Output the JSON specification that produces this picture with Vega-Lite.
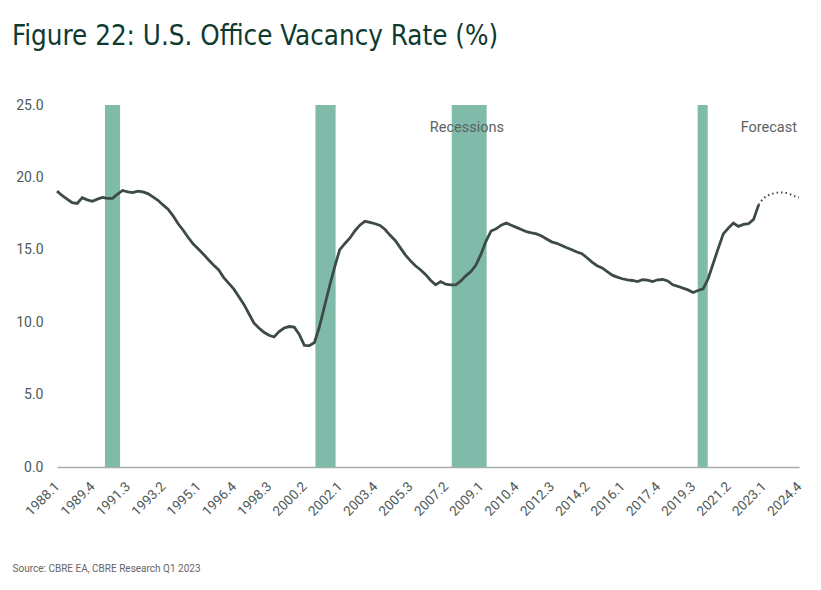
{
  "$schema": "https://vega.github.io/schema/vega-lite/v6.json",
  "width": 742,
  "height": 362,
  "autosize": {"type": "none"},
  "padding": {"left": 57, "top": 105, "right": 22, "bottom": 123},
  "background": "white",
  "title": {
    "text": "Figure 22: U.S. Office Vacancy Rate (%)",
    "anchor": "start",
    "frame": "group",
    "dx": -45,
    "offset": 48,
    "fontSize": 27.5,
    "font": "Liberation Sans Narrow, DejaVu Sans Condensed, Roboto, sans-serif",
    "fontWeight": "normal",
    "color": "#0f3a30"
  },
  "datasets": {
    "vacancy": [
      {"period": 1988, "rate": 19.05, "series": "Actual"},
      {"period": 1988.25, "rate": 18.75, "series": "Actual"},
      {"period": 1988.5, "rate": 18.5, "series": "Actual"},
      {"period": 1988.75, "rate": 18.25, "series": "Actual"},
      {"period": 1989, "rate": 18.2, "series": "Actual"},
      {"period": 1989.25, "rate": 18.6, "series": "Actual"},
      {"period": 1989.5, "rate": 18.45, "series": "Actual"},
      {"period": 1989.75, "rate": 18.35, "series": "Actual"},
      {"period": 1990, "rate": 18.5, "series": "Actual"},
      {"period": 1990.25, "rate": 18.62, "series": "Actual"},
      {"period": 1990.5, "rate": 18.55, "series": "Actual"},
      {"period": 1990.75, "rate": 18.55, "series": "Actual"},
      {"period": 1991, "rate": 18.85, "series": "Actual"},
      {"period": 1991.25, "rate": 19.1, "series": "Actual"},
      {"period": 1991.5, "rate": 19.0, "series": "Actual"},
      {"period": 1991.75, "rate": 18.95, "series": "Actual"},
      {"period": 1992, "rate": 19.05, "series": "Actual"},
      {"period": 1992.25, "rate": 19.0, "series": "Actual"},
      {"period": 1992.5, "rate": 18.88, "series": "Actual"},
      {"period": 1992.75, "rate": 18.65, "series": "Actual"},
      {"period": 1993, "rate": 18.42, "series": "Actual"},
      {"period": 1993.25, "rate": 18.1, "series": "Actual"},
      {"period": 1993.5, "rate": 17.8, "series": "Actual"},
      {"period": 1993.75, "rate": 17.35, "series": "Actual"},
      {"period": 1994, "rate": 16.8, "series": "Actual"},
      {"period": 1994.25, "rate": 16.35, "series": "Actual"},
      {"period": 1994.5, "rate": 15.85, "series": "Actual"},
      {"period": 1994.75, "rate": 15.4, "series": "Actual"},
      {"period": 1995, "rate": 15.05, "series": "Actual"},
      {"period": 1995.25, "rate": 14.7, "series": "Actual"},
      {"period": 1995.5, "rate": 14.31, "series": "Actual"},
      {"period": 1995.75, "rate": 13.95, "series": "Actual"},
      {"period": 1996, "rate": 13.62, "series": "Actual"},
      {"period": 1996.25, "rate": 13.1, "series": "Actual"},
      {"period": 1996.5, "rate": 12.7, "series": "Actual"},
      {"period": 1996.75, "rate": 12.3, "series": "Actual"},
      {"period": 1997, "rate": 11.77, "series": "Actual"},
      {"period": 1997.25, "rate": 11.25, "series": "Actual"},
      {"period": 1997.5, "rate": 10.6, "series": "Actual"},
      {"period": 1997.75, "rate": 9.95, "series": "Actual"},
      {"period": 1998, "rate": 9.6, "series": "Actual"},
      {"period": 1998.25, "rate": 9.3, "series": "Actual"},
      {"period": 1998.5, "rate": 9.1, "series": "Actual"},
      {"period": 1998.75, "rate": 8.98, "series": "Actual"},
      {"period": 1999, "rate": 9.35, "series": "Actual"},
      {"period": 1999.25, "rate": 9.6, "series": "Actual"},
      {"period": 1999.5, "rate": 9.7, "series": "Actual"},
      {"period": 1999.75, "rate": 9.66, "series": "Actual"},
      {"period": 2000, "rate": 9.15, "series": "Actual"},
      {"period": 2000.25, "rate": 8.4, "series": "Actual"},
      {"period": 2000.5, "rate": 8.38, "series": "Actual"},
      {"period": 2000.75, "rate": 8.6, "series": "Actual"},
      {"period": 2001, "rate": 9.7, "series": "Actual"},
      {"period": 2001.25, "rate": 11.1, "series": "Actual"},
      {"period": 2001.5, "rate": 12.5, "series": "Actual"},
      {"period": 2001.75, "rate": 13.8, "series": "Actual"},
      {"period": 2002, "rate": 15.0, "series": "Actual"},
      {"period": 2002.25, "rate": 15.42, "series": "Actual"},
      {"period": 2002.5, "rate": 15.8, "series": "Actual"},
      {"period": 2002.75, "rate": 16.3, "series": "Actual"},
      {"period": 2003, "rate": 16.7, "series": "Actual"},
      {"period": 2003.25, "rate": 16.97, "series": "Actual"},
      {"period": 2003.5, "rate": 16.9, "series": "Actual"},
      {"period": 2003.75, "rate": 16.8, "series": "Actual"},
      {"period": 2004, "rate": 16.68, "series": "Actual"},
      {"period": 2004.25, "rate": 16.4, "series": "Actual"},
      {"period": 2004.5, "rate": 16.0, "series": "Actual"},
      {"period": 2004.75, "rate": 15.65, "series": "Actual"},
      {"period": 2005, "rate": 15.15, "series": "Actual"},
      {"period": 2005.25, "rate": 14.65, "series": "Actual"},
      {"period": 2005.5, "rate": 14.25, "series": "Actual"},
      {"period": 2005.75, "rate": 13.9, "series": "Actual"},
      {"period": 2006, "rate": 13.62, "series": "Actual"},
      {"period": 2006.25, "rate": 13.3, "series": "Actual"},
      {"period": 2006.5, "rate": 12.9, "series": "Actual"},
      {"period": 2006.75, "rate": 12.58, "series": "Actual"},
      {"period": 2007, "rate": 12.81, "series": "Actual"},
      {"period": 2007.25, "rate": 12.62, "series": "Actual"},
      {"period": 2007.5, "rate": 12.58, "series": "Actual"},
      {"period": 2007.75, "rate": 12.58, "series": "Actual"},
      {"period": 2008, "rate": 12.85, "series": "Actual"},
      {"period": 2008.25, "rate": 13.2, "series": "Actual"},
      {"period": 2008.5, "rate": 13.5, "series": "Actual"},
      {"period": 2008.75, "rate": 13.95, "series": "Actual"},
      {"period": 2009, "rate": 14.7, "series": "Actual"},
      {"period": 2009.25, "rate": 15.6, "series": "Actual"},
      {"period": 2009.5, "rate": 16.3, "series": "Actual"},
      {"period": 2009.75, "rate": 16.45, "series": "Actual"},
      {"period": 2010, "rate": 16.7, "series": "Actual"},
      {"period": 2010.25, "rate": 16.85, "series": "Actual"},
      {"period": 2010.5, "rate": 16.7, "series": "Actual"},
      {"period": 2010.75, "rate": 16.55, "series": "Actual"},
      {"period": 2011, "rate": 16.4, "series": "Actual"},
      {"period": 2011.25, "rate": 16.25, "series": "Actual"},
      {"period": 2011.5, "rate": 16.17, "series": "Actual"},
      {"period": 2011.75, "rate": 16.1, "series": "Actual"},
      {"period": 2012, "rate": 15.95, "series": "Actual"},
      {"period": 2012.25, "rate": 15.75, "series": "Actual"},
      {"period": 2012.5, "rate": 15.55, "series": "Actual"},
      {"period": 2012.75, "rate": 15.45, "series": "Actual"},
      {"period": 2013, "rate": 15.3, "series": "Actual"},
      {"period": 2013.25, "rate": 15.14, "series": "Actual"},
      {"period": 2013.5, "rate": 15.0, "series": "Actual"},
      {"period": 2013.75, "rate": 14.85, "series": "Actual"},
      {"period": 2014, "rate": 14.73, "series": "Actual"},
      {"period": 2014.25, "rate": 14.45, "series": "Actual"},
      {"period": 2014.5, "rate": 14.15, "series": "Actual"},
      {"period": 2014.75, "rate": 13.9, "series": "Actual"},
      {"period": 2015, "rate": 13.75, "series": "Actual"},
      {"period": 2015.25, "rate": 13.5, "series": "Actual"},
      {"period": 2015.5, "rate": 13.25, "series": "Actual"},
      {"period": 2015.75, "rate": 13.11, "series": "Actual"},
      {"period": 2016, "rate": 13.0, "series": "Actual"},
      {"period": 2016.25, "rate": 12.92, "series": "Actual"},
      {"period": 2016.5, "rate": 12.88, "series": "Actual"},
      {"period": 2016.75, "rate": 12.81, "series": "Actual"},
      {"period": 2017, "rate": 12.93, "series": "Actual"},
      {"period": 2017.25, "rate": 12.9, "series": "Actual"},
      {"period": 2017.5, "rate": 12.81, "series": "Actual"},
      {"period": 2017.75, "rate": 12.93, "series": "Actual"},
      {"period": 2018, "rate": 12.95, "series": "Actual"},
      {"period": 2018.25, "rate": 12.85, "series": "Actual"},
      {"period": 2018.5, "rate": 12.58, "series": "Actual"},
      {"period": 2018.75, "rate": 12.48, "series": "Actual"},
      {"period": 2019, "rate": 12.35, "series": "Actual"},
      {"period": 2019.25, "rate": 12.23, "series": "Actual"},
      {"period": 2019.5, "rate": 12.05, "series": "Actual"},
      {"period": 2019.75, "rate": 12.19, "series": "Actual"},
      {"period": 2020, "rate": 12.3, "series": "Actual"},
      {"period": 2020.25, "rate": 13.0, "series": "Actual"},
      {"period": 2020.5, "rate": 14.05, "series": "Actual"},
      {"period": 2020.75, "rate": 15.1, "series": "Actual"},
      {"period": 2021, "rate": 16.1, "series": "Actual"},
      {"period": 2021.25, "rate": 16.5, "series": "Actual"},
      {"period": 2021.5, "rate": 16.85, "series": "Actual"},
      {"period": 2021.75, "rate": 16.62, "series": "Actual"},
      {"period": 2022, "rate": 16.75, "series": "Actual"},
      {"period": 2022.25, "rate": 16.8, "series": "Actual"},
      {"period": 2022.5, "rate": 17.1, "series": "Actual"},
      {"period": 2022.75, "rate": 18.1, "series": "Actual"},
      {"period": 2022.75, "rate": 18.1, "series": "Forecast"},
      {"period": 2023, "rate": 18.55, "series": "Forecast"},
      {"period": 2023.25, "rate": 18.78, "series": "Forecast"},
      {"period": 2023.5, "rate": 18.9, "series": "Forecast"},
      {"period": 2023.75, "rate": 18.95, "series": "Forecast"},
      {"period": 2024, "rate": 18.95, "series": "Forecast"},
      {"period": 2024.25, "rate": 18.87, "series": "Forecast"},
      {"period": 2024.5, "rate": 18.72, "series": "Forecast"},
      {"period": 2024.75, "rate": 18.62, "series": "Forecast"}
    ],
    "recessions": [
      {"start": 1990.375, "end": 1991.125},
      {"start": 2000.8, "end": 2001.8},
      {"start": 2007.55, "end": 2009.28},
      {"start": 2019.73, "end": 2020.23}
    ]
  },
  "layer": [
    {
      "data": {"name": "recessions"},
      "mark": {"type": "rect", "color": "#80bba9"},
      "encoding": {
        "x": {"field": "start", "type": "quantitative"},
        "x2": {"field": "end"},
        "y": {"datum": 0, "type": "quantitative"},
        "y2": {"datum": 25}
      }
    },
    {
      "data": {"name": "vacancy"},
      "transform": [{"filter": "datum.series === 'Actual'"}],
      "mark": {"type": "line", "color": "#3d4a48", "strokeWidth": 2.8, "interpolate": "linear"},
      "encoding": {
        "x": {"field": "period", "type": "quantitative"},
        "y": {"field": "rate", "type": "quantitative"}
      }
    },
    {
      "data": {"name": "vacancy"},
      "transform": [{"filter": "datum.series === 'Forecast'"}],
      "mark": {"type": "line", "color": "#3d4a48", "strokeWidth": 2, "strokeDash": [1.5, 3], "interpolate": "monotone"},
      "encoding": {
        "x": {"field": "period", "type": "quantitative"},
        "y": {"field": "rate", "type": "quantitative"}
      }
    },
    {
      "data": {"values": [{"label": "Recessions"}]},
      "mark": {"type": "text", "align": "center", "baseline": "middle", "fontSize": 14.5, "font": "Roboto", "color": "#5b6362"},
      "encoding": {
        "text": {"field": "label"},
        "x": {"datum": 2008.3, "type": "quantitative"},
        "y": {"datum": 23.4, "type": "quantitative"}
      }
    },
    {
      "data": {"values": [{"label": "Forecast"}]},
      "mark": {"type": "text", "align": "right", "baseline": "middle", "fontSize": 14.5, "font": "Roboto", "color": "#5b6362"},
      "encoding": {
        "text": {"field": "label"},
        "x": {"datum": 2024.65, "type": "quantitative"},
        "y": {"datum": 23.4, "type": "quantitative"}
      }
    }
  ],
  "encoding": {
    "x": {
      "type": "quantitative",
      "scale": {"domain": [1988, 2024.75], "nice": false, "zero": false},
      "axis": {
        "values": [1988, 1989.75, 1991.5, 1993.25, 1995, 1996.75, 1998.5, 2000.25, 2002, 2003.75, 2005.5, 2007.25, 2009, 2010.75, 2012.5, 2014.25, 2016, 2017.75, 2019.5, 2021.25, 2023, 2024.75],
        "labelExpr": "floor(datum.value) + '.' + (round((datum.value - floor(datum.value)) * 4) + 1)",
        "labelAngle": -45,
        "labelAlign": "right",
        "labelBaseline": "middle",
        "labelPadding": 17,
        "labelFontSize": 13.5,
        "labelFont": "Roboto",
        "labelColor": "#505a5a",
        "labelOverlap": false,
        "labelBound": false,
        "labelFlush": false,
        "ticks": false,
        "grid": false,
        "domainColor": "#a6afae",
        "domainWidth": 1.5,
        "title": "Source: CBRE EA, CBRE Research Q1 2023",
        "titleAnchor": "start",
        "titleAlign": "left",
        "titleBaseline": "middle",
        "titleX": -45,
        "titleY": 101,
        "titleFontSize": 10,
        "titleFontWeight": "normal",
        "titleFont": "Roboto",
        "titleColor": "#666666"
      }
    },
    "y": {
      "type": "quantitative",
      "scale": {"domain": [0, 25], "nice": false},
      "axis": {
        "values": [0, 5, 10, 15, 20, 25],
        "format": ".1f",
        "ticks": false,
        "domain": false,
        "gridColor": "#e3e8e7",
        "gridWidth": 1.5,
        "labelPadding": 14,
        "labelFontSize": 14,
        "labelFont": "Roboto",
        "labelColor": "#505a5a",
        "title": null
      }
    }
  },
  "config": {
    "view": {"stroke": null},
    "font": "Roboto"
  }
}
